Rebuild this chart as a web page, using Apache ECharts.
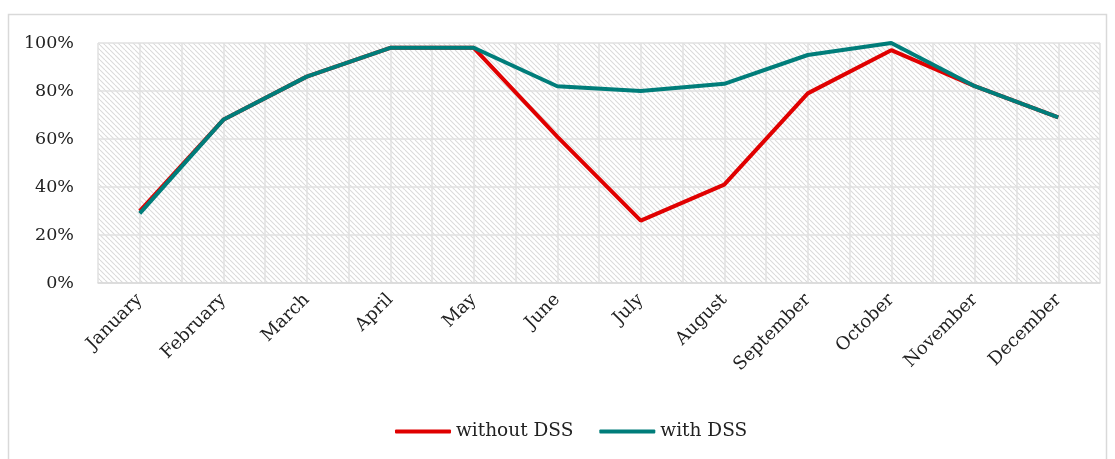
<!DOCTYPE html>
<html><head><meta charset="utf-8">
<script src="https://cdn.jsdelivr.net/npm/echarts@6/dist/echarts.min.js"></script>
<style>html,body{margin:0;padding:0;background:#fff}#c{width:1115px;height:459px}</style>
</head><body><div id="c"></div>
<script>
const categories = ['January','February','March','April','May','June','July','August','September','October','November','December'];
const withoutDSS = [30, 68, 86, 98, 98, 61, 26, 41, 79, 97, 82, 69];
const withDSS = [29, 68, 86, 98, 98, 82, 80, 83, 95, 100, 82, 69];
const yTicks = [0, 20, 40, 60, 80, 100];

const T = 5;
const pc = document.createElement('canvas');
pc.width = T; pc.height = T;
const g = pc.getContext('2d');
g.fillStyle = '#ffffff'; g.fillRect(0,0,T,T);
g.strokeStyle = '#dadada'; g.lineWidth = 1.1;
for (let k = -2; k <= 2; k++) {
  g.beginPath(); g.moveTo(k*T, 0); g.lineTo(k*T+T, T); g.stroke();
}

const font = 'DejaVu Serif';
const chart = echarts.init(document.getElementById('c'));
chart.setOption({
  animation: false,
  textStyle: {fontFamily: font},
  graphic: [{type:'rect', shape:{x:8.5,y:14.5,width:1098,height:460}, style:{fill:'none', stroke:'#d9d9d9', lineWidth:1.5}, silent:true, z:-10}],
  grid: {left: 98, right: 15, top: 43, bottom: 176, show: true, backgroundColor: {image: pc, repeat: 'repeat'}, borderWidth: 0},
  legend: {bottom: 13, left: 390, itemWidth: 56, itemHeight: 4, itemGap: 26,
    icon: 'roundRect',
    textStyle: {fontFamily: font, fontSize: 18.5, color: '#222'},
    data: ['without DSS', 'with DSS']},
  xAxis: [{
    type: 'category', data: categories, boundaryGap: true,
    axisLine: {show: true, lineStyle: {color: '#d9d9d9', width: 1.5}},
    axisTick: {show: false},
    splitLine: {show: false},
    axisLabel: {interval: 0, rotate: 45, fontFamily: font, fontSize: 18, color: '#222', margin: 14}
  }, {
    type: 'value', min: 0, max: 24, interval: 1, position: 'bottom',
    axisLine: {show: false}, axisTick: {show: false}, axisLabel: {show: false},
    splitLine: {show: true, lineStyle: {color: '#e0e0e0', width: 1.5}}
  }],
  yAxis: {
    type: 'value', min: 0, max: 100, interval: 20,
    axisLine: {show: false}, axisTick: {show: false},
    splitLine: {show: true, lineStyle: {color: '#e0e0e0', width: 1.5}},
    axisLabel: {formatter: v => yTicks.includes(v) ? v + '%' : '', fontFamily: font, fontSize: 17.5, color: '#222', margin: 24}
  },
  series: [
    {name: 'without DSS', type: 'line', data: withoutDSS, xAxisIndex: 0, symbol: 'none', lineStyle: {color: '#e00000', width: 4}, itemStyle: {color: '#e00000'}, z: 3},
    {name: 'with DSS', type: 'line', data: withDSS, xAxisIndex: 0, symbol: 'none', lineStyle: {color: '#007d7a', width: 4}, itemStyle: {color: '#007d7a'}, z: 4}
  ]
});
</script></body></html>
